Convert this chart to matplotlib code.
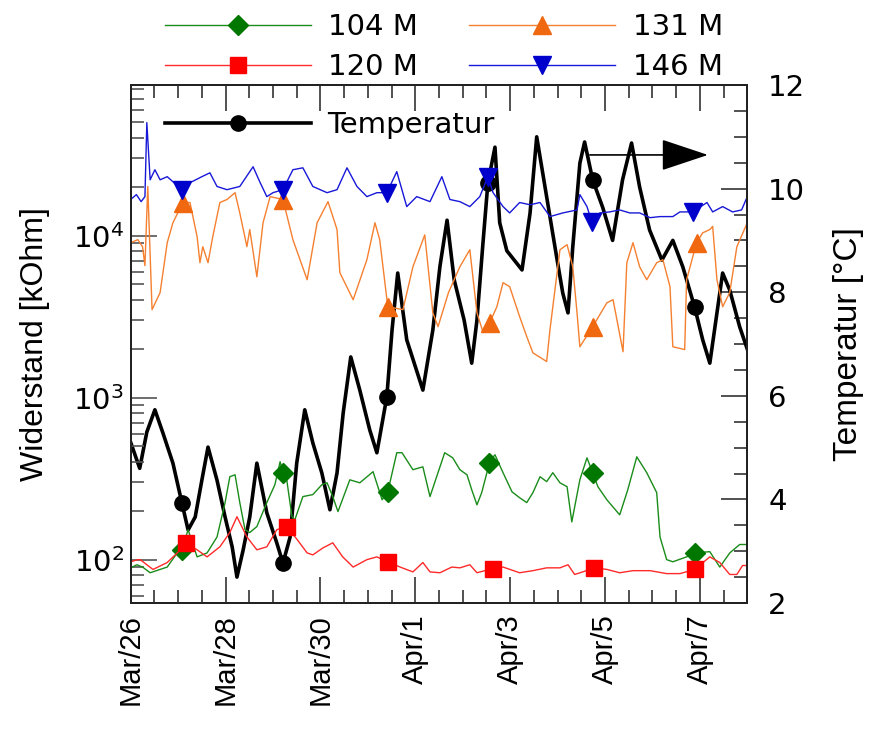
import numpy as np
import matplotlib
matplotlib.use("Agg")
import matplotlib.pyplot as plt
from matplotlib.ticker import MultipleLocator, FixedLocator, LogLocator, NullFormatter, LogFormatterSciNotation

plt.rcParams['font.family'] = ['Liberation Sans', 'DejaVu Sans']
plt.rcParams['mathtext.fontset'] = 'dejavusans'

# ---- data (x = days since Mar/26 00:00) ----
tick_days = [0, 2, 4, 6, 8, 10, 12]
tick_labels = ["Mar/26", "Mar/28", "Mar/30", "Apr/1", "Apr/3", "Apr/5", "Apr/7"]

t_104 = [0.0, 0.13, 0.25, 0.41, 0.77, 0.98, 1.08, 1.21, 1.40, 1.61, 1.82, 1.99, 2.09, 2.20, 2.30, 2.41, 2.51, 2.66,
         2.87, 3.04, 3.15, 3.21, 3.29, 3.40, 3.46, 3.63, 3.84, 4.03, 4.14, 4.26, 4.37, 4.62, 4.83, 5.11, 5.30, 5.42,
         5.61, 5.72, 5.95, 6.16, 6.31, 6.62, 6.79, 6.94, 7.09, 7.19, 7.30, 7.40, 7.51, 7.55, 7.68, 7.85, 8.04, 8.20,
         8.35, 8.48, 8.63, 8.77, 8.90, 9.05, 9.20, 9.30, 9.47, 9.62, 9.74, 9.85, 10.04, 10.31, 10.48, 10.67, 10.88,
         11.09, 11.16, 11.30, 11.43, 11.72, 11.89, 12.21, 12.42, 12.63, 12.84, 13.0]
r_104 = [89, 93, 90, 83, 90, 110, 115, 153, 104, 110, 138, 225, 325, 334, 225, 153, 147, 160,
         225, 290, 402, 344, 311, 184, 176, 245, 252, 290, 298, 245, 198, 311, 298, 349, 234, 262,
         457, 457, 359, 374, 245, 457, 425, 359, 334, 270, 218, 259, 344, 396, 444, 344, 262, 241,
         225, 259, 325, 303, 344, 298, 282, 171, 311, 425, 344, 282, 234, 189, 270, 431, 344,
         259, 138, 100, 97, 104, 110, 112, 90, 110, 124, 124]
m_104 = [1.08, 3.21, 5.42, 7.55, 9.74, 11.89]

t_120 = [0.0, 0.15, 0.20, 0.47, 0.77, 0.98, 1.17, 1.40, 1.61, 1.88, 2.09, 2.24, 2.45, 2.66, 2.87, 3.08, 3.29, 3.51,
         3.72, 3.84, 4.05, 4.26, 4.47, 4.69, 4.98, 5.19, 5.42, 5.68, 5.95, 6.16, 6.31, 6.52, 6.77, 6.94, 7.15, 7.30,
         7.63, 7.85, 8.20, 8.48, 8.77, 9.05, 9.22, 9.36, 9.53, 9.77, 10.04, 10.31, 10.59, 10.95, 11.30, 11.58,
         11.89, 12.21, 12.42, 12.63, 12.78, 12.90, 13.0]
r_120 = [97, 100, 100, 87, 96, 110, 127, 115, 104, 120, 147, 184, 138, 115, 120, 153, 160, 133,
         110, 107, 118, 127, 104, 90, 100, 104, 97, 90, 84, 96, 84, 83, 90, 89, 93, 83,
         88, 90, 83, 85.5, 89, 89, 93, 81, 84, 89, 87, 83, 85.5, 85.5, 82, 82,
         87, 104, 96, 81, 81, 92, 92]
m_120 = [1.17, 3.29, 5.42, 7.63, 9.77, 11.89]

t_131 = [0.0, 0.15, 0.25, 0.30, 0.36, 0.45, 0.62, 0.77, 0.89, 1.10, 1.25, 1.40, 1.46, 1.52, 1.63, 1.73, 1.88, 2.03,
         2.20, 2.30, 2.45, 2.51, 2.66, 2.79, 2.94, 3.21, 3.42, 3.72, 3.93, 4.16, 4.35, 4.41, 4.69, 4.98, 5.15, 5.25,
         5.42, 5.74, 5.95, 6.20, 6.37, 6.48, 6.70, 6.94, 7.15, 7.30, 7.43, 7.57, 7.72, 7.85, 7.99, 8.20, 8.35, 8.48,
         8.77, 8.84, 9.05, 9.20, 9.32, 9.41, 9.47, 9.74, 10.04, 10.17, 10.38, 10.46, 10.59, 10.73, 10.88, 11.09,
         11.22, 11.37, 11.43, 11.68, 11.72, 11.93, 12.06, 12.21, 12.27, 12.36, 12.48, 12.63, 12.78, 13.0]
r_131 = [9040, 9440, 8540, 6520, 20100, 3490, 4450, 9040, 12000, 16000, 16000, 9850, 6800, 8540, 6800, 9850, 16000, 16700,
         18400, 13800, 8540, 10900, 5570, 12000, 17400, 16700, 9440, 5340, 12000, 16200, 10900, 5900, 4020, 7100, 12000, 9440,
         3640, 3490, 6420, 10100, 3340, 2740, 4450, 6420, 8180, 3340, 2520, 2900, 3640, 5120, 4840, 3160, 2380, 1890,
         1670, 2630, 8180, 8790, 6420, 3340, 2060, 2740, 3850, 4020, 1920, 6800, 9040, 6420, 5340, 6800,
         7100, 4840, 2060, 1980, 5340, 9040, 10400, 10900, 11400, 5340, 3640, 4450, 8540, 12000]
m_131 = [1.10, 3.21, 5.42, 7.57, 9.74, 11.93]

t_146 = [0.0, 0.12, 0.22, 0.30, 0.34, 0.41, 0.51, 0.62, 0.77, 1.08, 1.25, 1.50, 1.67, 1.82, 2.03, 2.30, 2.58, 2.73,
         2.87, 3.00, 3.21, 3.42, 3.63, 3.84, 4.14, 4.35, 4.56, 4.77, 4.98, 5.19, 5.40, 5.61, 5.82, 6.03, 6.31, 6.56,
         6.73, 6.94, 7.15, 7.36, 7.53, 7.64, 7.85, 7.99, 8.20, 8.42, 8.63, 8.84, 9.11, 9.41, 9.47, 9.62, 9.72, 9.89,
         10.10, 10.31, 10.52, 10.73, 10.95, 11.16, 11.43, 11.58, 11.85, 12.15, 12.27, 12.48, 12.69, 12.88, 13.0]
r_146 = [16700, 17900, 16200, 17400, 49800, 22100, 25500, 22100, 23100, 19200, 21200, 23100, 24400, 20100, 19200, 20100,
         26600, 21200, 17400, 18400, 19200, 25500, 26200, 20100, 18400, 19200, 26200, 20100, 17400, 18400, 18400, 24800,
         15100, 17400, 16200, 23100, 16700, 16200, 15100, 17400, 23100, 18400, 15100, 13800, 16000, 15500, 16000, 13100,
         13800, 14400, 17900, 15100, 12200, 13800, 14000, 14400, 13800, 13800, 12900, 13100, 13100, 14000, 14000, 16000,
         14000, 15100, 14000, 14400, 17400]
m_146 = [1.08, 3.21, 5.40, 7.53, 9.72, 11.85]

t_temp = [0.0, 0.19, 0.34, 0.51, 0.68, 0.89, 1.08, 1.21, 1.36, 1.50, 1.63, 1.82, 1.99, 2.14, 2.24, 2.37, 2.51, 2.66,
          2.87, 3.08, 3.21, 3.36, 3.50, 3.67, 3.84, 4.03, 4.20, 4.35, 4.48, 4.64, 4.83, 5.04, 5.19, 5.40, 5.51, 5.63,
          5.82, 6.16, 6.37, 6.52, 6.67, 6.82, 7.03, 7.19, 7.30, 7.42, 7.53, 7.68, 7.78, 7.93, 8.25, 8.42, 8.56, 8.77,
          8.98, 9.11, 9.22, 9.32, 9.47, 9.57, 9.74, 9.95, 10.16, 10.37, 10.56, 10.73, 10.94, 11.20, 11.43, 11.64,
          11.89, 12.06, 12.21, 12.36, 12.48, 12.63, 12.84, 13.0]
temp = [5.1, 4.6, 5.3, 5.73, 5.28, 4.7, 3.93, 3.41, 3.66, 4.37, 5.01, 4.37, 3.66, 3.08, 2.5, 3.02, 3.66, 4.7,
        3.74, 3.16, 2.77, 3.27, 4.7, 5.73, 5.09, 4.51, 3.8, 4.51, 5.67, 6.75, 6.11, 5.34, 4.9, 5.98, 7.27, 8.37,
        7.08, 6.11, 7.27, 8.5, 9.39, 8.24, 7.46, 6.63, 7.46, 8.87, 10.1, 10.8, 9.34, 8.8, 8.43, 9.53, 11.0, 9.84,
        8.68, 7.98, 7.6, 8.87, 10.49, 10.9, 10.17, 9.64, 9.0, 10.17, 10.88, 10.03, 9.2, 8.62, 9.0, 8.49,
        7.71, 7.08, 6.63, 7.6, 8.37, 8.04, 7.33, 6.9]
m_temp = [1.08, 3.21, 5.40, 7.53, 9.74, 11.89]


def idx(times, marks):
    times = np.asarray(times)
    return [int(np.argmin(np.abs(times - m))) for m in marks]


W, H = 872, 729
fig = plt.figure(figsize=(W / 100, H / 100), dpi=100)
ax = fig.add_axes([130.7 / W, 1 - 603 / H, (747.3 - 130.7) / W, (603 - 85) / H])
ax2 = ax.twinx()
ax.set_zorder(ax2.get_zorder() + 1)
ax.patch.set_visible(False)

WIDE = 'DejaVu Sans'
FS = 21

l104, = ax.plot(t_104, r_104, color='#1a8c1a', lw=1.0, marker='D', ms=10.5, mfc='#007800', mec='#007800',
                markevery=idx(t_104, m_104), label='104 M')
l120, = ax.plot(t_120, r_120, color='#ff2a2a', lw=1.0, marker='s', ms=12, mfc='#ff0000', mec='#ff0000',
                markevery=idx(t_120, m_120), label='120 M')
l131, = ax.plot(t_131, r_131, color='#f58030', lw=1.0, marker='^', ms=13, mfc='#f06810', mec='#f06810',
                markevery=idx(t_131, m_131), label='131 M')
l146, = ax.plot(t_146, r_146, color='#1818d8', lw=1.0, marker='v', ms=13, mfc='#0000cc', mec='#0000cc',
                markevery=idx(t_146, m_146), label='146 M')

lt, = ax2.plot(t_temp, temp, color='black', lw=2.6, marker='o', ms=11, mfc='black', mec='black',
               markevery=idx(t_temp, m_temp), label='Temperatur')

ax.set_yscale('log')
ax.set_ylim(54, 85000)
ax.set_xlim(0, 13)
ax2.set_ylim(2, 12)

ax.xaxis.set_major_locator(FixedLocator(tick_days))
ax.set_xticklabels(tick_labels, rotation=90, fontsize=FS)
ax.xaxis.set_minor_locator(MultipleLocator(0.5))
ax.yaxis.set_major_locator(LogLocator(base=10, numticks=10))
ax.yaxis.set_minor_locator(LogLocator(base=10, subs=np.arange(2, 10), numticks=20))
ax.yaxis.set_minor_formatter(NullFormatter())
ax.yaxis.set_major_formatter(LogFormatterSciNotation())

ax2.yaxis.set_major_locator(MultipleLocator(2))
ax2.yaxis.set_minor_locator(MultipleLocator(0.5))

for a in (ax, ax2):
    for s in a.spines.values():
        s.set_linewidth(1.4)
        s.set_color('#222222')

ax.tick_params(axis='x', which='both', direction='in', top=True, bottom=True, color='#333333', width=1.2)
ax.tick_params(axis='x', which='major', length=19, pad=8, labelsize=FS)
ax.tick_params(axis='x', which='minor', length=9.5)
ax.tick_params(axis='y', which='both', direction='in', left=True, right=False, color='#555555', width=1.2)
ax.tick_params(axis='y', which='major', length=19, pad=5, labelsize=FS)
ax.tick_params(axis='y', which='minor', length=9.5)
ax2.tick_params(axis='y', which='both', direction='in', color='#333333', width=1.2)
ax2.tick_params(axis='y', which='major', length=19, pad=15, labelsize=FS)
ax2.tick_params(axis='y', which='minor', length=9.5)
for lab in ax.get_yticklabels() + ax2.get_yticklabels():
    lab.set_fontfamily(WIDE)

ax.set_ylabel('Widerstand [kOhm]', fontsize=23, labelpad=16)
ax2.set_ylabel('Temperatur [°C]', fontsize=24, labelpad=20)

# legends
fig.legend([l104, l120, l131, l146], ['104 M', '120 M', '131 M', '146 M'], ncol=2,
           loc='center left', bbox_to_anchor=(165 / W, 1 - 47 / H), frameon=False,
           prop={'family': WIDE, 'size': FS},
           handlelength=5.0, handletextpad=0.6, columnspacing=1.75, labelspacing=0.4,
           borderpad=0, borderaxespad=0)
ax2.legend([lt], ['Temperatur'], loc='center left', bbox_to_anchor=(165 / W, 1 - 125 / H),
           bbox_transform=fig.transFigure, frameon=False, prop={'family': WIDE, 'size': FS},
           handlelength=5.0, handletextpad=0.55, borderpad=0, borderaxespad=0)

# arrow pointing to right axis
ax2.annotate('', xy=(12.17, 10.65), xytext=(9.68, 10.65),
             arrowprops=dict(arrowstyle='-|>,head_length=3.0,head_width=1.0', lw=1.2, color='black',
                             shrinkA=0, shrinkB=0))

fig.savefig('out.png', dpi=100)
